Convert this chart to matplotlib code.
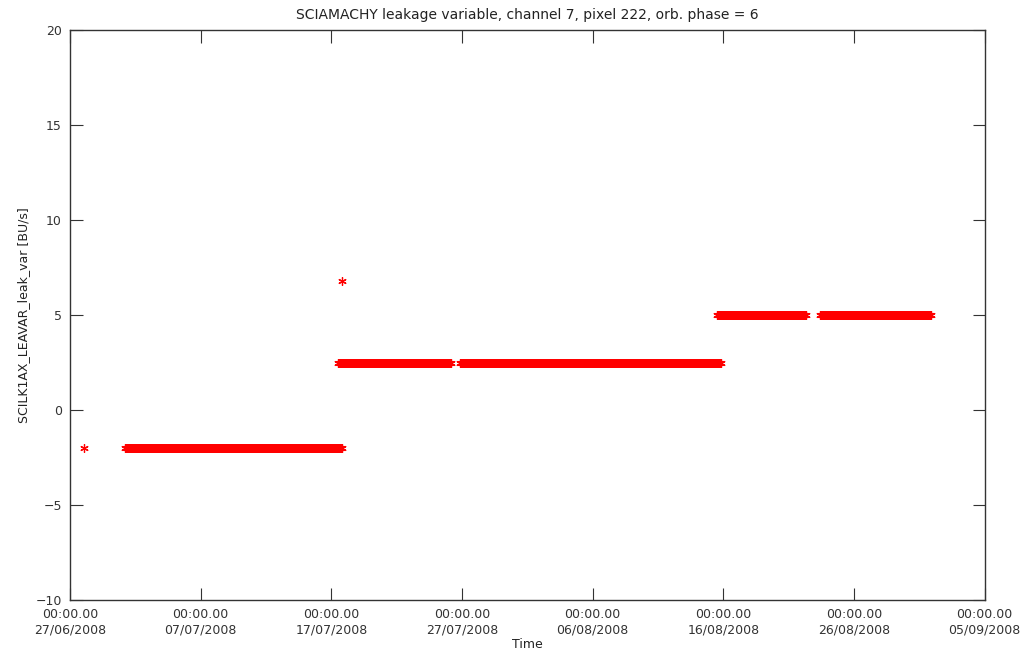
import numpy as np
import matplotlib.pyplot as plt
from datetime import datetime, timedelta

# start date of the time axis
t0 = datetime(2008, 6, 27)

# single measurements (days after t0, value)
single_days = [1.07, 20.81]
single_vals = [-2.0, 6.8]

# runs of consecutive orbits (start day, end day, value)
seg_start = [4.21, 20.5, 29.84, 49.5, 57.4]
seg_end = [20.89, 29.23, 49.88, 56.4, 65.95]
seg_vals = [-2.0, 2.5, 2.5, 5.0, 5.0]

# orbit period of ENVISAT, ~100.6 min
orbit_days = 100.6 / 1440.0

tick_days = [0, 10, 20, 30, 40, 50, 60, 70]

fig = plt.figure(figsize=(10.3, 6.55), dpi=100)
ax = fig.add_axes([0.068, 0.084, 0.888, 0.870])

star = (6, 2, 0)  # IDL-like asterisk
for s, e, v in zip(seg_start, seg_end, seg_vals):
    d = np.arange(s, e, orbit_days)
    t = [t0 + timedelta(days=float(x)) for x in d]
    ax.plot(t, np.full(len(d), v), ls='none', marker=star, ms=6, color='red', mew=0.9)

ts = [t0 + timedelta(days=x) for x in single_days]
ax.plot(ts, single_vals, ls='none', marker=star, ms=6, color='red', mew=0.9)

ax.set_xlim(t0, t0 + timedelta(days=70))
ax.set_ylim(-10, 20)
ax.set_yticks([-10, -5, 0, 5, 10, 15, 20])
ax.set_yticklabels(['\u221210', '\u22125', '0', '5', '10', '15', '20'])
ticks = [t0 + timedelta(days=d) for d in tick_days]
ax.set_xticks(ticks)
ax.set_xticklabels(['00:00.00\n' + t.strftime('%d/%m/%Y') for t in ticks])

ax.tick_params(direction='in', top=True, right=True, length=9, width=0.8,
               labelsize=9, colors='#333333', pad=6)
for sp in ax.spines.values():
    sp.set_color('#333333')
    sp.set_linewidth(1.0)

ax.set_title('SCIAMACHY leakage variable, channel 7, pixel 222, orb. phase = 6',
             fontsize=10, color='#222222', pad=8)
ax.set_xlabel('Time', fontsize=9, color='#222222', labelpad=1)
ax.set_ylabel('SCILK1AX_LEAVAR_leak_var [BU/s]', fontsize=9, color='#222222', labelpad=4)

fig.savefig('out.png', dpi=100)
